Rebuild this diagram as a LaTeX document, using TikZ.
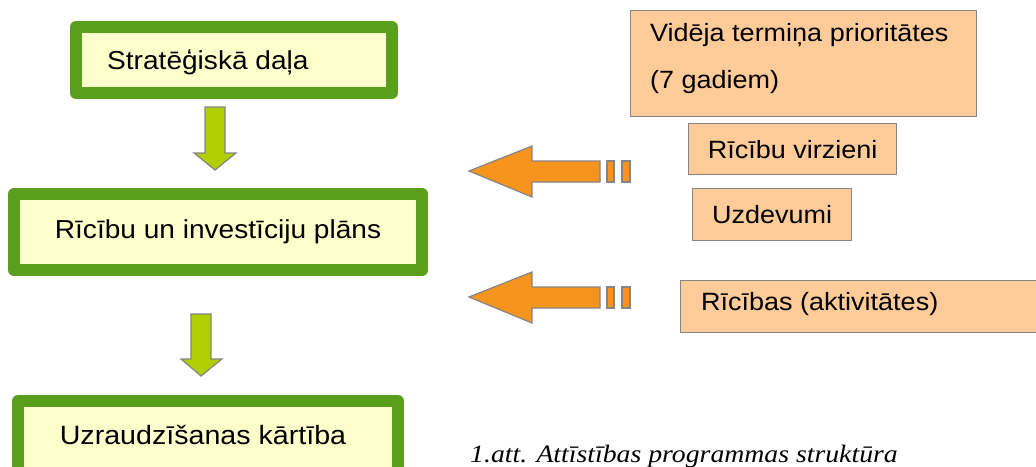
\documentclass[tikz,border=0pt]{standalone}
\usepackage{fontspec}
\setmainfont[FakeStretch=1.08]{Liberation Sans}
\newfontfamily\capfont[FakeStretch=1.11]{Liberation Serif}
\definecolor{gborder}{HTML}{5A9E1E}
\definecolor{gfill}{HTML}{FFFFCC}
\definecolor{ofill}{HTML}{FFCC99}
\definecolor{oarrow}{HTML}{F7941D}
\definecolor{garrow}{HTML}{B0CF00}
\definecolor{edgegray}{HTML}{858585}
\begin{document}
\begin{tikzpicture}[x=1pt,y=-1pt,
  greenbox/.style={draw=gborder,fill=gfill,line width=12pt,line join=round,
    minimum width=#1,inner sep=0pt,anchor=center},
  peachbox/.style={draw=edgegray,fill=ofill,line width=1.3pt,inner sep=0pt,anchor=north west},
  txt/.style={font=\fontsize{26}{30}\selectfont},
  ptxt/.style={font=\fontsize{25}{30}\selectfont},
  oarr/.style={draw=edgegray,fill=oarrow,line width=1.2pt,line join=miter},
  garr/.style={draw=edgegray,fill=garrow,line width=1.2pt,line join=miter}]
\useasboundingbox (0,0) rectangle (1036,466);
\clip (0,0) rectangle (1036,466);
% green boxes
\node[greenbox=316pt,minimum height=66pt] (s) at (234,60) {};
\node[txt,anchor=west,inner sep=0pt] (st) at (107,62) {Stratēģiskā daļa};
\node[greenbox=408pt,minimum height=76pt,txt] (r) at (218,232) {Rīcību un investīciju plāns};
\node[greenbox=380pt,minimum height=76pt] (u) at (208,439) {};
\node[font=\fontsize{26.5}{30}\selectfont,anchor=center] (ut) at (203,435) {Uzraudzīšanas kārtība};
% green arrows
\draw[garr] (205,107) -- (225,107) -- (225,153) -- (236,153) -- (215,170) -- (194,153) -- (205,153) -- cycle;
\draw[garr] (191,314) -- (211,314) -- (211,359) -- (222,359) -- (201,376) -- (181,359) -- (191,359) -- cycle;
% peach boxes
\node[peachbox,minimum width=346pt,minimum height=106pt] (p) at (630,10) {};
\node[ptxt,anchor=west,inner sep=0pt] (p1) at (650,35) {Vidēja termiņa prioritātes};
\node[ptxt,anchor=west,inner sep=0pt] (p2) at (650,82) {(7 gadiem)};
\node[peachbox,minimum width=208pt,minimum height=51pt,ptxt] (v) at (688,123) {Rīcību virzieni};
\node[peachbox,minimum width=159pt,minimum height=52pt,ptxt] (z) at (692,188) {Uzdevumi};
\node[peachbox,minimum width=380pt,minimum height=52pt] (a) at (680,280) {};
\node[ptxt,anchor=west,inner sep=0pt] (at) at (701,304) {Rīcības (aktivitātes)};
% orange arrows
\foreach \dy in {0,126}{
  \begin{scope}[yshift=-\dy pt]
    \draw[oarr] (469,171) -- (532,146) -- (532,161) -- (600,161) -- (600,182) -- (532,182) -- (532,197) -- cycle;
    \draw[oarr] (607,161) rectangle (614,182);
    \draw[oarr] (622,161) rectangle (630,182);
  \end{scope}
}
% caption
\node[anchor=base west,inner sep=0pt,font=\capfont\itshape\fontsize{25}{28}\selectfont] (cap) at (470,462) {1.att. Attīstības programmas struktūra};
\end{tikzpicture}
\end{document}
